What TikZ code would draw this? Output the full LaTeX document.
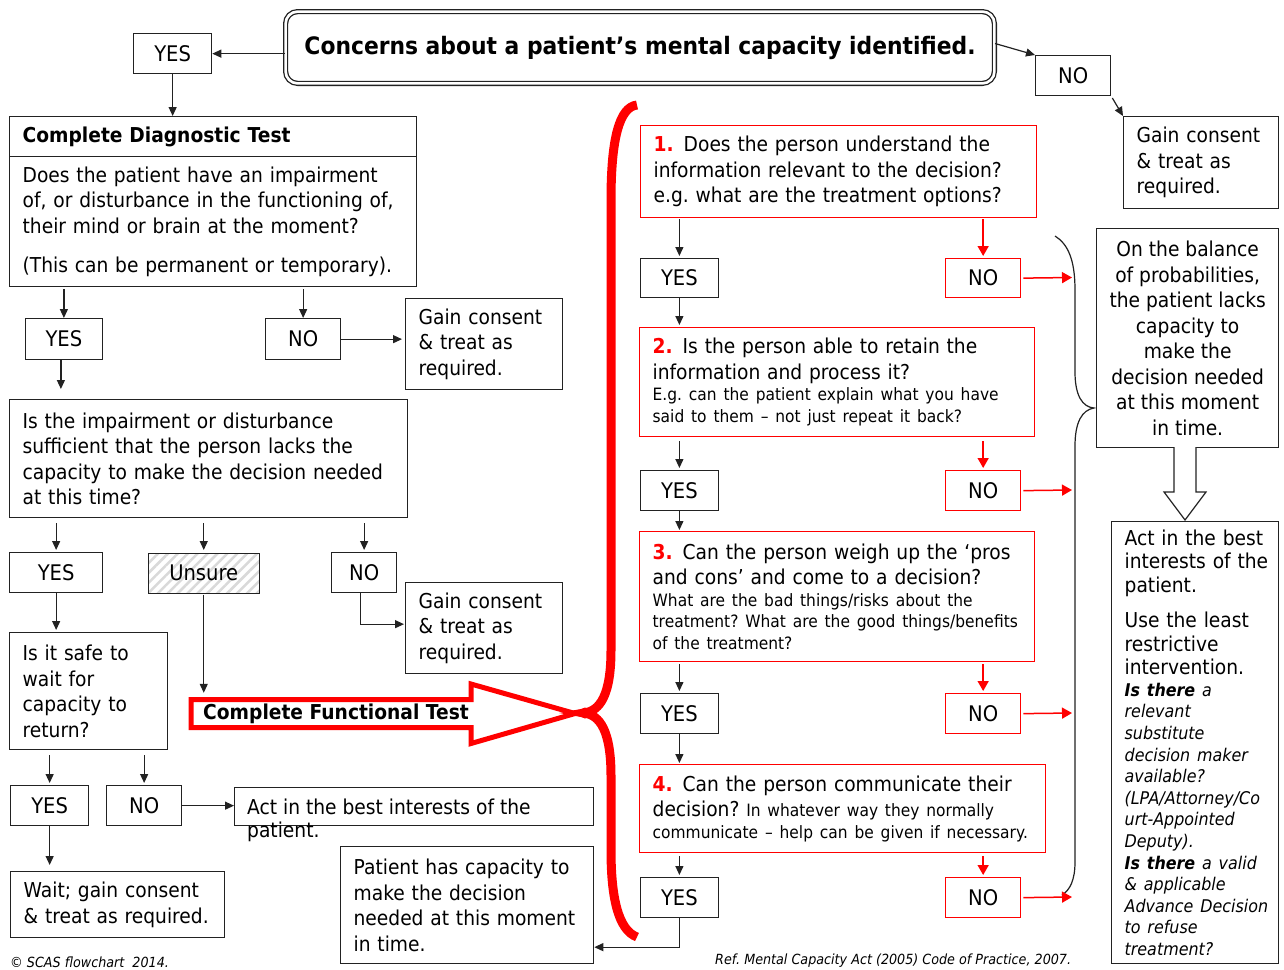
\documentclass[tikz,border=0pt]{standalone}
\usepackage{fontspec}
\setmainfont{DejaVu Sans}[FakeStretch=0.91]
\usetikzlibrary{arrows.meta,patterns.meta,calc}
\setlength\parindent{0pt}
\frenchspacing
\newcommand\myN{\fontsize{20.5}{25.5}\selectfont}
\newcommand\myY{\fontsize{21.5}{25}\selectfont}
\newcommand\myS{\fontsize{17}{21.5}\selectfont}
\newcommand\myT{\fontsize{24}{30}\selectfont\bfseries}
\newcommand\myF{\fontsize{14}{16}\selectfont\itshape}
\newcommand\myI{\fontsize{17.5}{21.6}\selectfont\itshape}
\newcommand\myA{\fontsize{20.5}{23.5}\selectfont}
\newcommand\num[1]{\textcolor{rd}{\bfseries #1}\hspace{10pt}}
\definecolor{bd}{HTML}{222222}
\definecolor{rd}{HTML}{FF0000}
\begin{document}
\begin{tikzpicture}[x=1pt,y=-1pt,
  box/.style={draw=bd, line width=1.3pt, anchor=north west, inner ysep=0pt, font=\myN, text=black},
  lbox/.style={box, align=left, inner xsep=13pt},
  rbox/.style={lbox, draw=rd},
  sbox/.style={box, align=center, inner xsep=0pt, font=\myY},
  srbox/.style={sbox, draw=rd},
  titlebox/.style={draw=bd, double, double distance=2.6pt, line width=1.3pt, rounded corners=12pt, anchor=center, inner sep=0pt, font=\myT},
  arr/.style={draw=bd, line width=1.2pt, -{Triangle[length=9pt,width=8pt]}},
  rarr/.style={draw=rd, line width=1.5pt, -{Triangle[length=10pt,width=11pt]}},
  hatch/.style={pattern={Lines[angle=45,distance=7pt,line width=2.5pt]}, pattern color=black!15},
  foot/.style={anchor=west, font=\myF, inner sep=0pt},
]
\useasboundingbox (0,0) rectangle (1284,969);
\fill[white] (0,0) rectangle (1284,969);

% ---- top ----
\node[titlebox, minimum width=708.8pt, minimum height=71.8pt] (title) at (640,47.5) {Concerns about a patient’s mental capacity identified.};
\node[sbox, minimum width=78pt, minimum height=40pt] (yes0) at (133,33) {YES};
\node[sbox, minimum width=75pt, minimum height=40pt] (noT) at (1035,55) {NO};
\node[lbox, text width=129pt, minimum height=92pt] (gainT) at (1123,116) {Gain consent\\\& treat as\\required.};

% ---- diagnostic ----
\node[lbox, text width=381pt, minimum height=40pt, font=\myN\bfseries] (diagH) at (9,116) {Complete Diagnostic Test};
\node[lbox, text width=381pt, minimum height=130pt] (diagB) at (9,156) {Does the patient have an impairment\\of, or disturbance in the functioning of,\\their mind or brain at the moment?\\[14pt](This can be permanent or temporary).};
\node[sbox, minimum width=77.5pt, minimum height=41pt] (yes1) at (24.5,318) {YES};
\node[sbox, minimum width=75pt, minimum height=41pt] (no1) at (265,318) {NO};
\node[lbox, text width=131pt, minimum height=91pt] (gain1) at (405,298) {Gain consent\\\& treat as\\required.};
\node[lbox, text width=372pt, minimum height=118pt] (imp) at (9,399) {Is the impairment or disturbance\\sufficient that the person lacks the\\capacity to make the decision needed\\at this time?};
\node[sbox, minimum width=93pt, minimum height=40pt] (yes2) at (9,552) {YES};
\node[sbox, hatch, minimum width=111pt, minimum height=40pt] (unsure) at (147,552) {Unsure};
\node[sbox, minimum width=65pt, minimum height=40pt] (no2) at (331,552) {NO};
\node[lbox, text width=131pt, minimum height=91pt] (gain2) at (405,582) {Gain consent\\\& treat as\\required.};
\node[lbox, text width=131.5pt, minimum height=117pt] (safe) at (9,632) {Is it safe to\\wait for\\capacity to\\return?};
\node[sbox, minimum width=78pt, minimum height=40pt] (yes3) at (10,785) {YES};
\node[sbox, minimum width=75pt, minimum height=40pt] (no3) at (106,785) {NO};
\node[box, minimum width=359pt, minimum height=38pt, inner sep=0pt] (act1) at (234,787) {};
\node[anchor=north west, align=left, font=\myN, inner sep=0pt] (act1t) at (247,799) {Act in the best interests of the\\[-2.5pt]patient.};
\node[lbox, text width=188pt, minimum height=66pt] (wait) at (10,871) {Wait; gain consent\\\& treat as required.};
\node[lbox, text width=227pt, minimum height=117pt] (patient) at (340,846) {Patient has capacity to\\make the decision\\needed at this moment\\in time.};

% ---- functional test arrow ----
\draw[rd, line width=5pt, line join=miter] (191,699.5) -- (471,699.5) -- (471,684) -- (575,713.5) -- (471,743.5) -- (471,727.5) -- (191,727.5) -- cycle;
\node[anchor=west, inner sep=0pt, minimum height=33pt, font=\myN\bfseries] (func) at (203,713.5) {Complete Functional Test};

% ---- red brace ----
\draw[rd, line width=9pt] (637,105) .. controls (619,107) and (611,140) .. (611,200) -- (611,650) .. controls (611,695) and (600,711) .. (584,713) .. controls (600,715) and (611,731) .. (611,776) -- (611,850) .. controls (611,897) and (618,930) .. (637,937);
\fill[rd] (585,713) circle (5.5pt);

% ---- functional questions ----
\node[rbox, text width=370pt, minimum height=92pt] (q1) at (640,125) {\num{1.}Does the person understand the\\information relevant to the decision?\\e.g. what are the treatment options?};
\node[sbox, minimum width=77.5pt, minimum height=39pt] (yesA) at (640,258) {YES};
\node[srbox, minimum width=75pt, minimum height=39pt] (noA) at (945,258) {NO};
\node[rbox, text width=369pt, minimum height=109pt] (q2) at (639,327) {\num{2.}Is the person able to retain the\\information and process it?\par\myS E.g. can the patient explain what you have\\said to them – not just repeat it back?\par};
\node[sbox, minimum width=77.5pt, minimum height=40pt] (yesB) at (640,470) {YES};
\node[srbox, minimum width=75pt, minimum height=40pt] (noB) at (945,470) {NO};
\node[rbox, text width=369pt, minimum height=130pt] (q3) at (639,531) {\num{3.}Can the person weigh up the ‘pros\\and cons’ and come to a decision?\par\myS What are the bad things/risks about the\\treatment? What are the good things/benefits\\of the treatment?\par};
\node[sbox, minimum width=77.5pt, minimum height=40pt] (yesC) at (640,693) {YES};
\node[srbox, minimum width=75pt, minimum height=40pt] (noC) at (945,693) {NO};
\node[rbox, text width=380pt, minimum height=88pt] (q4) at (639,764) {\num{4.}Can the person communicate their\\decision? {\myS In whatever way they normally}\par\myS communicate – help can be given if necessary.\par};
\node[sbox, minimum width=77.5pt, minimum height=40pt] (yesD) at (640,877) {YES};
\node[srbox, minimum width=75pt, minimum height=40pt] (noD) at (945,877) {NO};

% ---- right side ----
\node[sbox, font=\myN, minimum width=182pt, minimum height=219pt] (balance) at (1096,228) {On the balance\\of probabilities,\\the patient lacks\\capacity to\\make the\\decision needed\\at this moment\\in time.};
\node[lbox, inner xsep=0pt, text width=167pt, minimum height=442pt] (act2) at (1111,521) {\leftskip=13pt\myA Act in the best\\interests of the\\patient.\par\vspace{12pt}Use the least\\restrictive\\intervention.\par\myI\textbf{Is there} a\\relevant\\substitute\\decision maker\\available?\\(LPA/Attorney/Co\\urt-Appointed\\Deputy).\\\textbf{Is there} a valid\\\& applicable\\Advance Decision\\to refuse\\treatment?\par};
\draw[bd, line width=1.2pt, fill=white] (1174,447) -- (1174,492) -- (1164,492) -- (1185,520) -- (1206,492) -- (1196,492) -- (1196,447);
\draw[bd, line width=1.2pt] (1055,236) .. controls (1068,244) and (1075,260) .. (1075,290) -- (1075,372) .. controls (1075,395) and (1082,407) .. (1094,408) .. controls (1082,410) and (1075,422) .. (1075,446) -- (1075,862) .. controls (1075,880) and (1070,890) .. (1062,895);
\coordinate (bA) at (1072,277.5);
\coordinate (bB) at (1072,490);
\coordinate (bC) at (1072,713);
\coordinate (bD) at (1072,897);

% ---- connectors, left ----
\draw[arr] (title.west |- yes0.east) -- (yes0.east);
\draw[arr] (yes0.south) -- (yes0.south |- diagH.north);
\draw[arr] ([yshift=4pt]title.east) -- (noT.north west);
\draw[arr, shorten <=2pt] (noT.south east) -- (gainT.north west);
\draw[arr, shorten <=2pt] (yes1.north |- diagB.south) -- (yes1.north);
\draw[arr, shorten <=2pt] (no1.north |- diagB.south) -- (no1.north);
\draw[arr, shorten >=3pt] (no1.east) -- (no1.east -| gain1.west);
\draw[arr, shorten >=10pt] ([xshift=-3pt]yes1.south) -- ([xshift=-3pt]yes1.south |- imp.north);
\draw[arr, shorten <=5pt, shorten >=2pt] (yes2.north |- imp.south) -- (yes2.north);
\draw[arr, shorten <=5pt, shorten >=2pt] (unsure.north |- imp.south) -- (unsure.north);
\draw[arr, shorten <=5pt, shorten >=2pt] (no2.north |- imp.south) -- (no2.north);
\draw[arr, shorten >=1pt] ([xshift=-4pt]no2.south) |- ([yshift=4pt]gain2.west);
\draw[arr, shorten >=4pt] (unsure.south) -- (unsure.south |- func.north);
\draw[arr, shorten >=2pt] (yes2.south) -- (yes2.south |- safe.north);
\draw[arr, shorten <=5pt, shorten >=2pt] (yes3.north |- safe.south) -- (yes3.north);
\draw[arr, shorten <=5pt, shorten >=2pt] (no3.north |- safe.south) -- (no3.north);
\draw[arr] (no3.east) -- (no3.east -| act1.west);
\draw[arr, shorten >=6pt] (yes3.south) -- (yes3.south |- wait.north);

% ---- connectors, right ----
\draw[arr, shorten <=1pt, shorten >=2pt] (yesA.north |- q1.south) -- (yesA.north);
\draw[rarr, shorten <=1pt, shorten >=2pt] (noA.north |- q1.south) -- (noA.north);
\draw[rarr, shorten <=2pt] (noA.east) -- (bA);
\draw[arr, shorten >=2pt] (yesA.south) -- (yesA.south |- q2.north);
\draw[arr, shorten <=4pt, shorten >=2pt] (yesB.north |- q2.south) -- (yesB.north);
\draw[rarr, shorten <=4pt, shorten >=2pt] (noB.north |- q2.south) -- (noB.north);
\draw[rarr, shorten <=2pt] (noB.east) -- (bB);
\draw[arr, shorten >=1pt] (yesB.south) -- (yesB.south |- q3.north);
\draw[arr, shorten <=2pt, shorten >=2pt] (yesC.north |- q3.south) -- (yesC.north);
\draw[rarr, shorten <=2pt, shorten >=2pt] (noC.north |- q3.south) -- (noC.north);
\draw[rarr, shorten <=2pt] (noC.east) -- (bC);
\draw[arr, shorten >=1pt] (yesC.south) -- (yesC.south |- q4.north);
\draw[arr, shorten <=3pt, shorten >=2pt] (yesD.north |- q4.south) -- (yesD.north);
\draw[rarr, shorten <=3pt, shorten >=2pt] (noD.north |- q4.south) -- (noD.north);
\draw[rarr, shorten <=2pt] (noD.east) -- (bD);
\draw[arr] (yesD.south) |- ([yshift=-42pt]patient.east);

% ---- footer ----
\node[foot] (copy) at (10,962) {© SCAS flowchart~~2014.};
\node[foot] (ref) at (715,961) {Ref. Mental Capacity Act (2005) Code of Practice, 2007.};
\end{tikzpicture}
\end{document}
